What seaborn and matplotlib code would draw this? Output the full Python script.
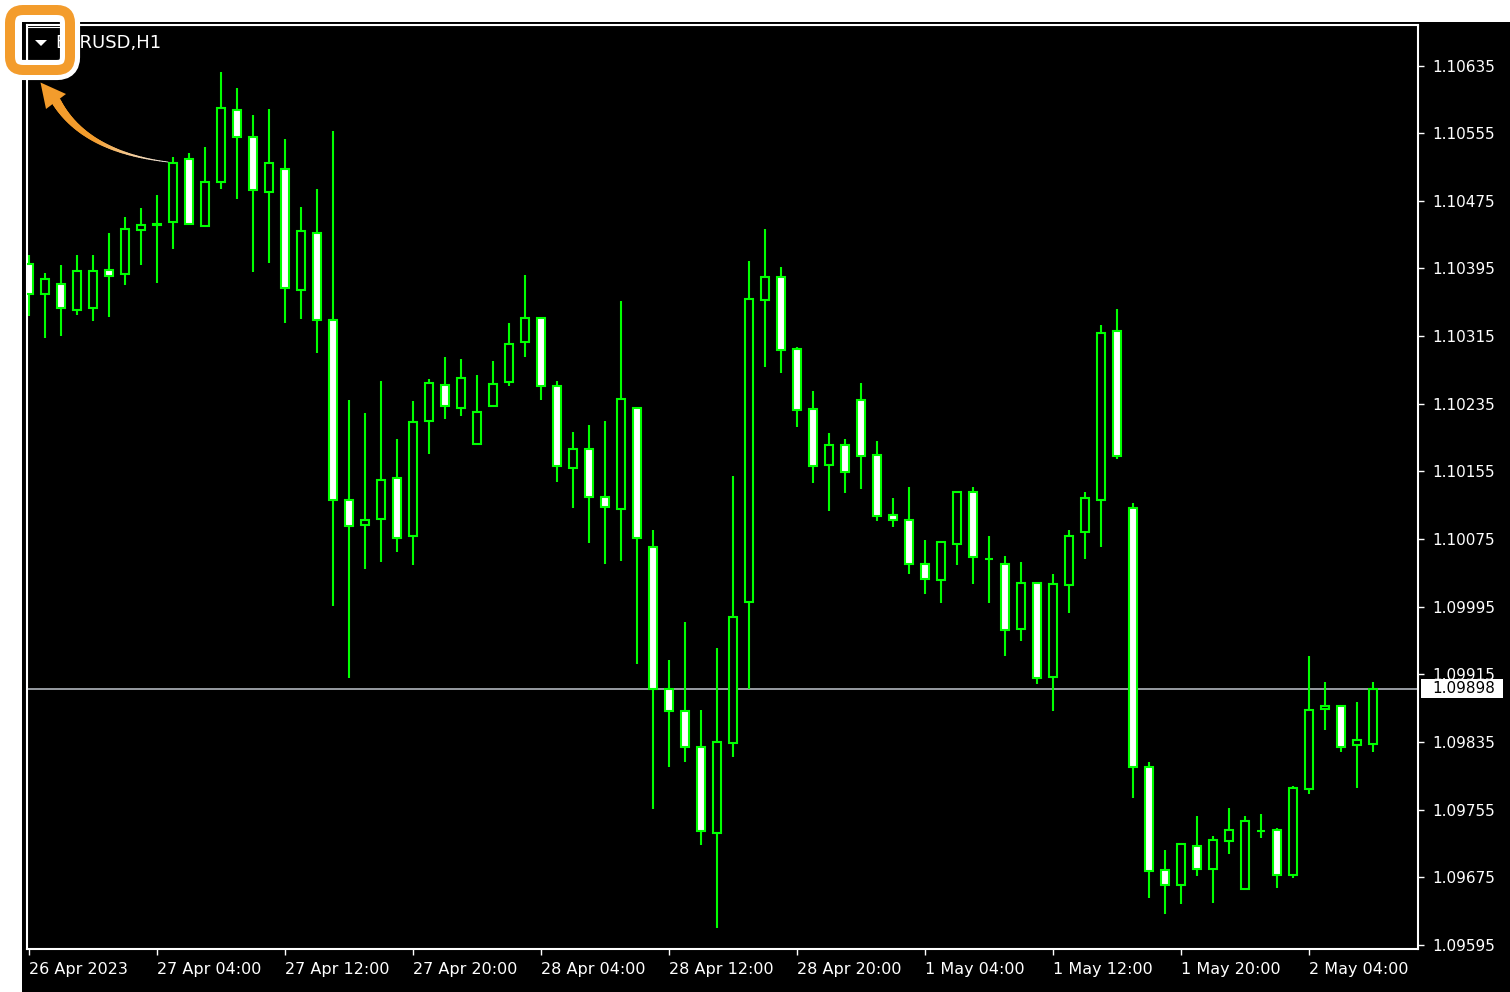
import numpy as np
import pandas as pd
import matplotlib
matplotlib.use("Agg")
import matplotlib.pyplot as plt
import matplotlib.transforms as mtransforms
from matplotlib.patches import Rectangle, FancyBboxPatch, Polygon
from matplotlib.collections import LineCollection
import matplotlib.patheffects as pe
import seaborn as sns

# EURUSD H1 bars
opens = [1.10400, 1.10365, 1.10377, 1.10346, 1.10348, 1.10393, 1.10389, 1.10441, 1.10447, 1.10450,
         1.10525, 1.10445, 1.10497, 1.10583, 1.10550, 1.10486, 1.10513, 1.10369, 1.10437, 1.10334,
         1.10121, 1.10092, 1.10099, 1.10147, 1.10078, 1.10215, 1.10257, 1.10230, 1.10187, 1.10232,
         1.10261, 1.10308, 1.10336, 1.10256, 1.10159, 1.10182, 1.10125, 1.10111, 1.10230, 1.10066,
         1.09898, 1.09871, 1.09829, 1.09727, 1.09834, 1.10001, 1.10358, 1.10385, 1.10300, 1.10229,
         1.10163, 1.10186, 1.10240, 1.10174, 1.10103, 1.10098, 1.10046, 1.10026, 1.10069, 1.10131,
         1.10051, 1.10045, 1.09969, 1.10023, 1.09912, 1.10021, 1.10083, 1.10121, 1.10321, 1.10112,
         1.09805, 1.09683, 1.09666, 1.09712, 1.09685, 1.09718, 1.09661, 1.09730, 1.09731, 1.09677,
         1.09779, 1.09874, 1.09878, 1.09831, 1.09833]
highs = [1.10411, 1.10390, 1.10399, 1.10411, 1.10411, 1.10437, 1.10456, 1.10466, 1.10482, 1.10527,
         1.10532, 1.10539, 1.10627, 1.10608, 1.10577, 1.10584, 1.10548, 1.10468, 1.10489, 1.10558,
         1.10240, 1.10224, 1.10262, 1.10193, 1.10238, 1.10264, 1.10290, 1.10288, 1.10269, 1.10285,
         1.10330, 1.10387, 1.10337, 1.10262, 1.10202, 1.10210, 1.10214, 1.10356, 1.10231, 1.10086,
         1.09932, 1.09977, 1.09873, 1.09946, 1.10150, 1.10404, 1.10442, 1.10397, 1.10302, 1.10250,
         1.10200, 1.10193, 1.10259, 1.10191, 1.10124, 1.10136, 1.10074, 1.10073, 1.10132, 1.10136,
         1.10079, 1.10055, 1.10048, 1.10024, 1.10034, 1.10086, 1.10131, 1.10328, 1.10347, 1.10117,
         1.09811, 1.09707, 1.09715, 1.09747, 1.09724, 1.09757, 1.09747, 1.09750, 1.09733, 1.09783,
         1.09937, 1.09906, 1.09879, 1.09882, 1.09906]
lows = [1.10339, 1.10313, 1.10315, 1.10340, 1.10333, 1.10338, 1.10375, 1.10399, 1.10378, 1.10418,
        1.10447, 1.10444, 1.10489, 1.10477, 1.10391, 1.10401, 1.10330, 1.10335, 1.10295, 1.09996,
        1.09911, 1.10039, 1.10048, 1.10060, 1.10044, 1.10176, 1.10217, 1.10221, 1.10186, 1.10231,
        1.10256, 1.10290, 1.10240, 1.10143, 1.10112, 1.10070, 1.10046, 1.10049, 1.09927, 1.09756,
        1.09805, 1.09811, 1.09713, 1.09615, 1.09817, 1.09897, 1.10278, 1.10271, 1.10207, 1.10141,
        1.10108, 1.10129, 1.10134, 1.10096, 1.10089, 1.10034, 1.10010, 1.09999, 1.10044, 1.10022,
        1.09999, 1.09937, 1.09954, 1.09904, 1.09871, 1.09987, 1.10051, 1.10065, 1.10170, 1.09769,
        1.09650, 1.09631, 1.09643, 1.09676, 1.09645, 1.09702, 1.09660, 1.09721, 1.09662, 1.09674,
        1.09773, 1.09849, 1.09823, 1.09781, 1.09823]
closes = [1.10365, 1.10383, 1.10348, 1.10392, 1.10392, 1.10386, 1.10442, 1.10447, 1.10448, 1.10520,
          1.10448, 1.10497, 1.10585, 1.10550, 1.10488, 1.10520, 1.10372, 1.10439, 1.10334, 1.10121,
          1.10090, 1.10097, 1.10145, 1.10076, 1.10213, 1.10259, 1.10232, 1.10265, 1.10225, 1.10258,
          1.10306, 1.10336, 1.10256, 1.10161, 1.10182, 1.10125, 1.10113, 1.10241, 1.10076, 1.09898,
          1.09872, 1.09829, 1.09730, 1.09835, 1.09983, 1.10359, 1.10385, 1.10298, 1.10227, 1.10161,
          1.10186, 1.10154, 1.10173, 1.10102, 1.10097, 1.10045, 1.10028, 1.10072, 1.10131, 1.10054,
          1.10051, 1.09967, 1.10023, 1.09910, 1.10022, 1.10078, 1.10123, 1.10319, 1.10173, 1.09805,
          1.09682, 1.09666, 1.09714, 1.09685, 1.09719, 1.09731, 1.09742, 1.09730, 1.09677, 1.09781,
          1.09873, 1.09877, 1.09829, 1.09837, 1.09898]

price_ticks = [1.09595, 1.09675, 1.09755, 1.09835, 1.09915, 1.09995, 1.10075,
               1.10155, 1.10235, 1.10315, 1.10395, 1.10475, 1.10555, 1.10635]
time_tick_bars = [0, 8, 16, 24, 32, 40, 48, 56, 64, 72, 80]
time_labels = ["26 Apr 2023", "27 Apr 04:00", "27 Apr 12:00", "27 Apr 20:00",
               "28 Apr 04:00", "28 Apr 12:00", "28 Apr 20:00", "1 May 04:00",
               "1 May 12:00", "1 May 20:00", "2 May 04:00"]
bid_price = 1.09898
symbol = "EURUSD,H1"

df = pd.DataFrame({"open": opens, "high": highs, "low": lows, "close": closes})
df["bar"] = np.arange(len(df))
df["bear"] = df["close"] < df["open"]

sns.set_theme(style="dark", rc={"axes.facecolor": "black", "figure.facecolor": "white",
                                "axes.edgecolor": "white", "text.color": "white",
                                "xtick.color": "white", "ytick.color": "white"})
plt.rcParams["font.family"] = ["DejaVu Sans"]

W, H = 1510, 992
fig = plt.figure(figsize=(W / 100, H / 100), dpi=100)
# pixel coordinates, y pointing down
pix = mtransforms.Affine2D().scale(1 / W, -1 / H).translate(0, 1) + fig.transFigure

# black terminal background
fig.patches.append(Rectangle((22, 22), W - 22, H - 22, transform=pix,
                             facecolor="black", edgecolor="none", zorder=-1))

left, right, top, bottom = 27, 1418, 25, 949
ax = fig.add_axes([left / W, (H - bottom) / H, (right - left) / W, (bottom - top) / H])
ax.set_zorder(1)
ax.set_facecolor("black")

green = "#00ff00"
# wicks
ax.vlines(df["bar"], df["low"], df["high"], color=green, linewidth=1.5, zorder=2)
# bodies: white = bearish, black = bullish
ax.bar(df["bar"], df["close"] - df["open"], bottom=df["open"], width=0.5,
       color=np.where(df["bear"], "white", "black"), edgecolor=green,
       linewidth=1.5, zorder=3)

# bid line
ax.axhline(bid_price, color="#a3a8ae", linewidth=1.3, zorder=1)

ax.set_xlim(-0.125, 86.81)
ax.set_ylim(1.09590, 1.10683)

ax.yaxis.tick_right()
ax.set_yticks(price_ticks)
ax.set_yticklabels([f"{p:.5f}" for p in price_ticks])
ax.set_xticks(time_tick_bars)
ax.set_xticklabels(time_labels, ha="left")
ax.tick_params(axis="y", which="both", right=True, left=False, length=4, width=1,
               pad=6, labelsize=11, colors="white")
ax.tick_params(axis="x", which="both", bottom=True, length=4.5, width=1,
               pad=5, labelsize=11.5, colors="white")
ax.grid(False)
for s in ax.spines.values():
    s.set_color("white")
    s.set_linewidth(1.5)
    s.set_visible(True)

# bid price label on the price scale
yb = mtransforms.blended_transform_factory(ax.transAxes, ax.transData)
ax.add_patch(Rectangle((1.0022, bid_price - 0.000113), 0.059, 0.000226, transform=yb,
                       facecolor="white", edgecolor="none", clip_on=False, zorder=5))
ax.text(1.0101, bid_price, f"{bid_price:.5f}", transform=yb, ha="left", va="center",
        color="black", fontsize=11, zorder=6, clip_on=False)

# symbol caption
fig.text(55, 43, symbol, transform=pix, ha="left", va="center", color="white",
         fontsize=13, zorder=4)

# dropdown button
fig.lines.append(plt.Line2D([27, 27, 62], [62, 27, 27], transform=pix,
                            color="white", linewidth=0.8, zorder=5))
fig.patches.append(Polygon([[35, 40], [47, 40], [41, 46]], closed=True, transform=pix,
                           facecolor="white", edgecolor="none", zorder=6))

# orange highlight box
orange = "#f39c2c"
box = FancyBboxPatch((10, 10), 60, 60, boxstyle="round,pad=0,rounding_size=13",
                     transform=pix, fill=False, edgecolor=orange, linewidth=7.2, zorder=7)
box.set_path_effects([pe.Stroke(linewidth=14.5, foreground="white"), pe.Normal()])
fig.patches.append(box)

# curved arrow pointing at the button
p0 = np.array([168.0, 162.0])
p1 = np.array([85.0, 152.0])
p2 = np.array([56.0, 101.0])
t = np.linspace(0, 1, 60)
curve = ((1 - t) ** 2)[:, None] * p0 + (2 * t * (1 - t))[:, None] * p1 + (t ** 2)[:, None] * p2
segs = np.stack([curve[:-1], curve[1:]], axis=1)
tm = t[:-1]
widths = 0.6 + 6.2 * tm ** 1.3
light = np.array([0.96, 0.93, 0.90])
orng = np.array(matplotlib.colors.to_rgb(orange))
mix = np.clip(tm / 0.55, 0, 1)[:, None]
cols = light * (1 - mix) + orng * mix
fig.add_artist(LineCollection(segs, linewidths=widths, colors=cols, transform=pix,
                              capstyle="round", zorder=7))
fig.patches.append(Polygon([[40.5, 82.5], [46, 109], [66, 94]], closed=True, transform=pix,
                           facecolor=orange, edgecolor="none", zorder=8))

fig.savefig("out.png", dpi=100, facecolor="white")
